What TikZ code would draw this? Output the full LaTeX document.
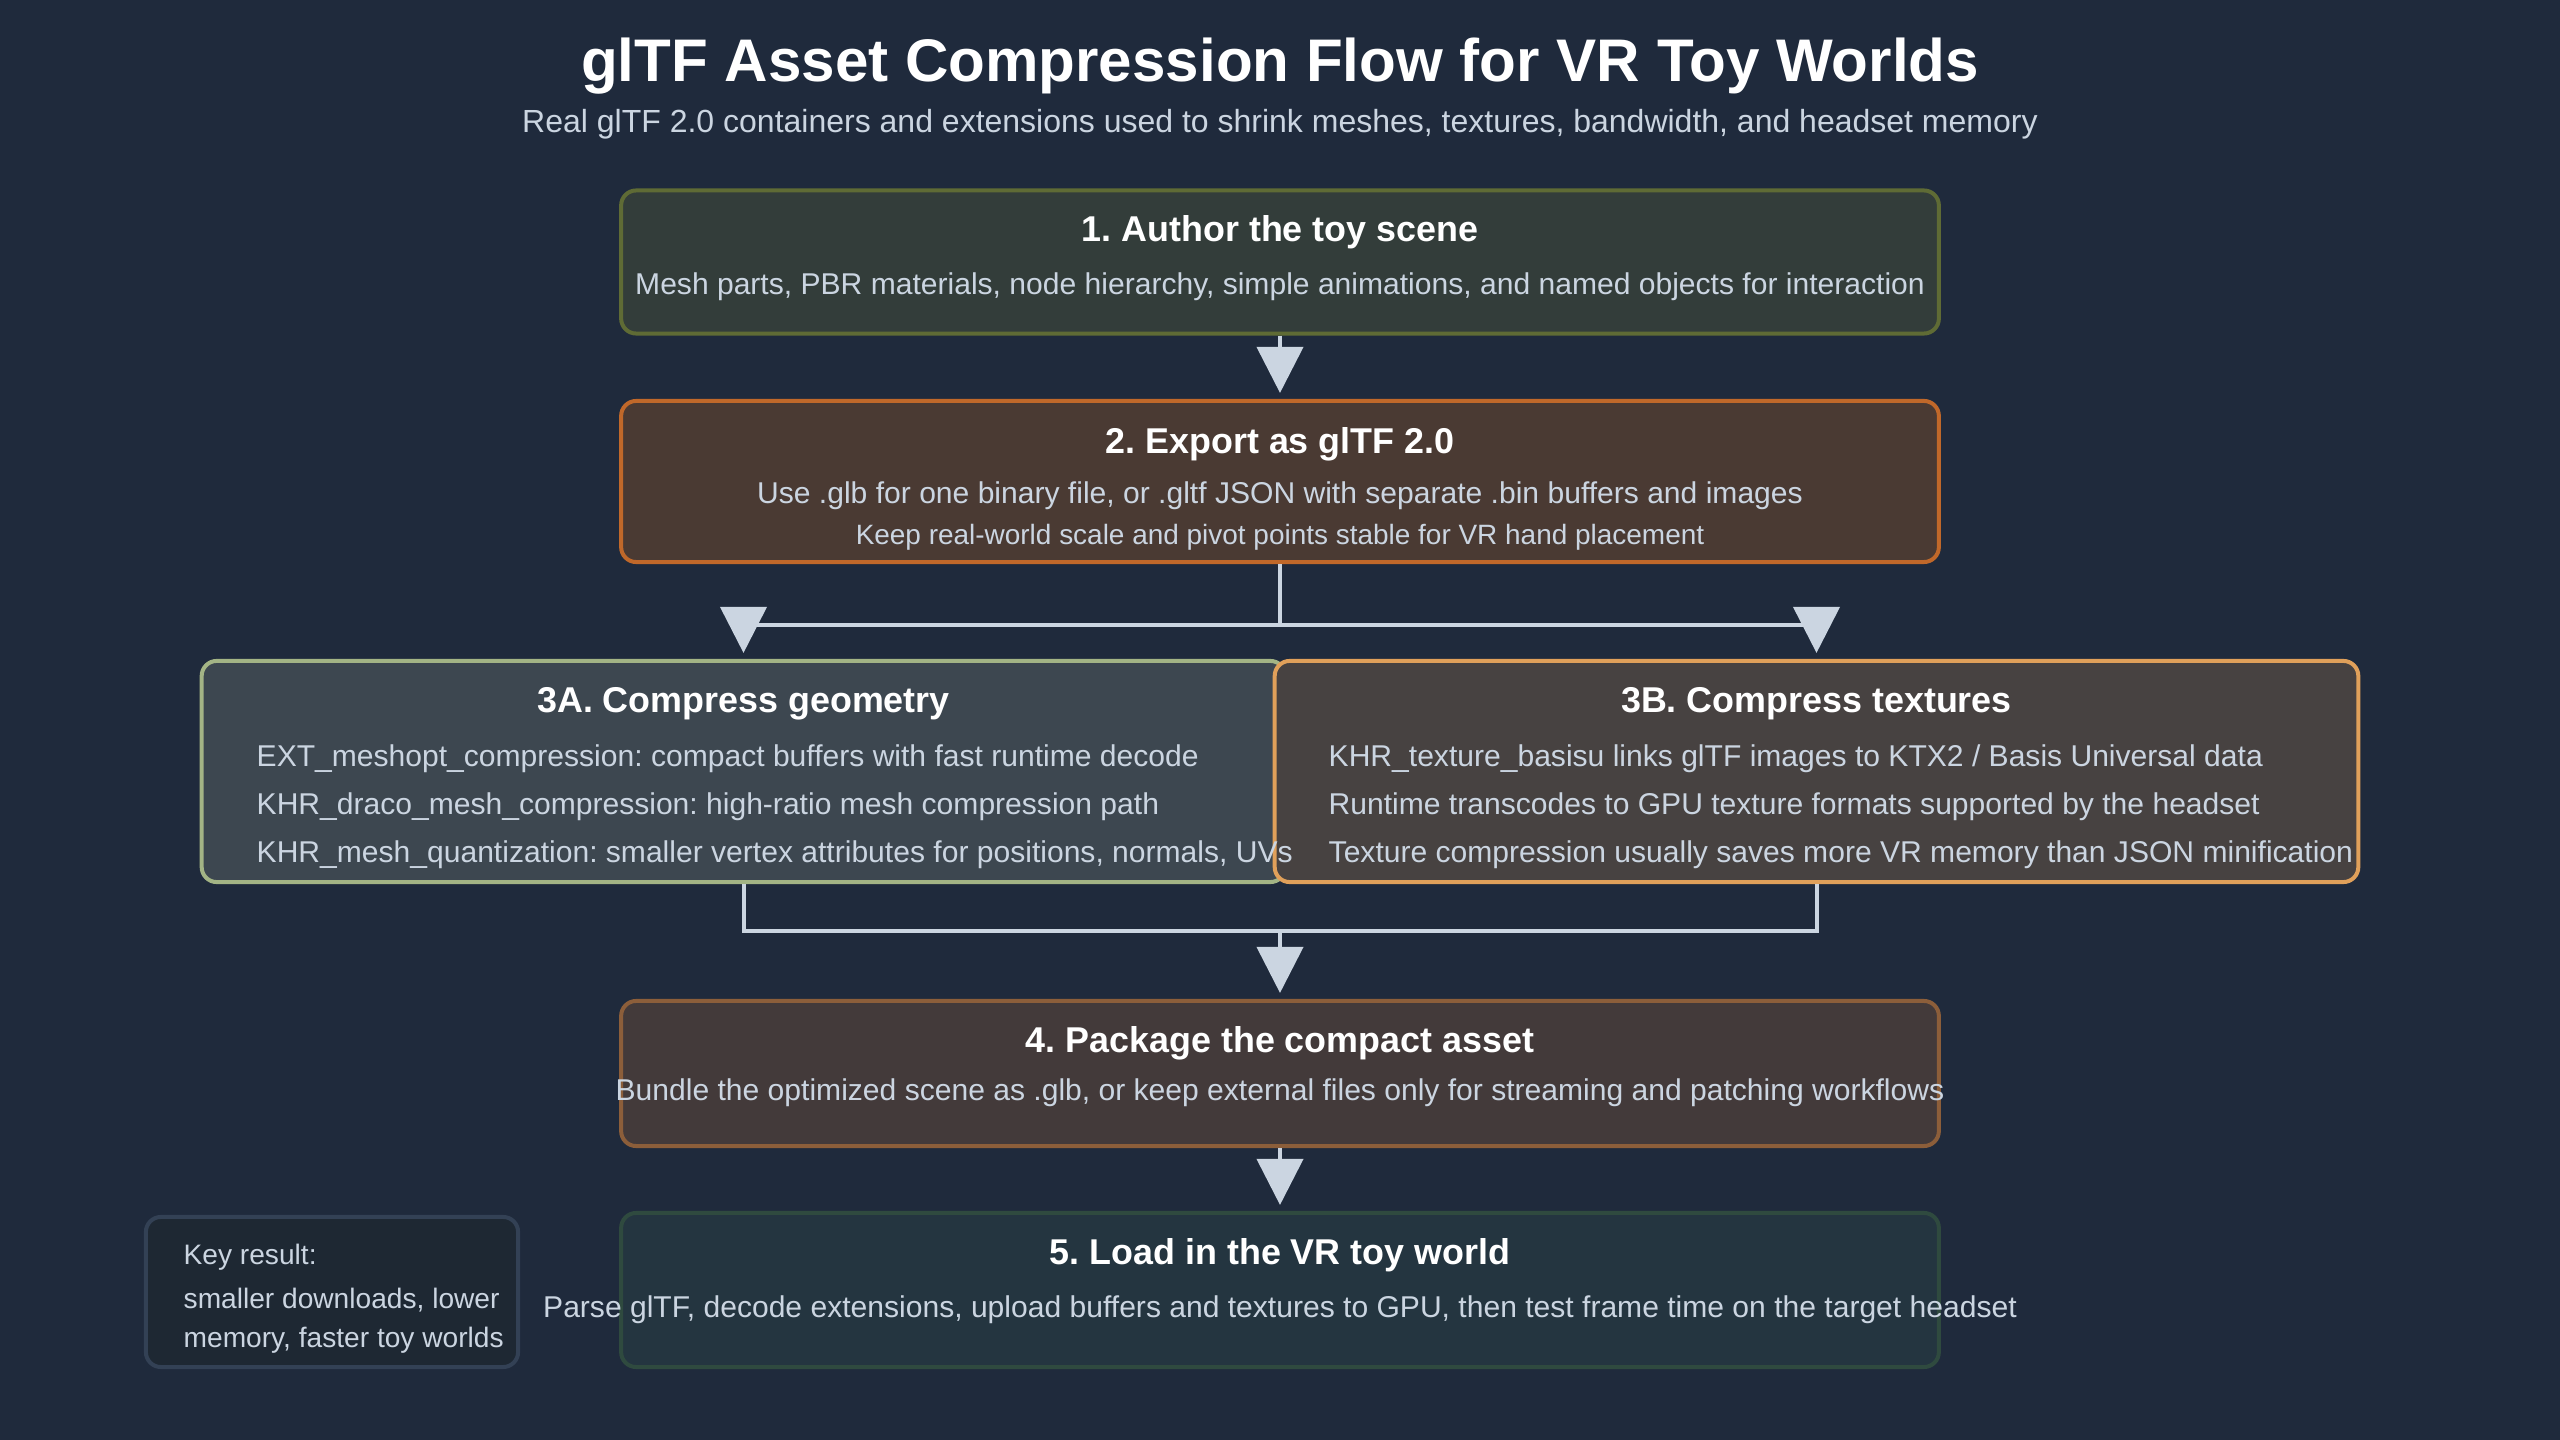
\documentclass[tikz,border=0pt]{standalone}
\usepackage{fontspec}
\setmainfont{Liberation Sans}
\usetikzlibrary{arrows.meta,positioning}
\frenchspacing

\definecolor{bgslate}{HTML}{1F2A3C}
\definecolor{linkgray}{HTML}{CBD5E1}
\definecolor{authorfill}{HTML}{333D3A}
\definecolor{authorline}{HTML}{5F6B35}
\definecolor{exportfill}{HTML}{4A3A33}
\definecolor{exportline}{HTML}{C0682A}
\definecolor{geomfill}{HTML}{3D4750}
\definecolor{geomline}{HTML}{A3B485}
\definecolor{texfill}{HTML}{474241}
\definecolor{texline}{HTML}{E0A05A}
\definecolor{packfill}{HTML}{433A3A}
\definecolor{packline}{HTML}{8C5E3A}
\definecolor{loadfill}{HTML}{243540}
\definecolor{loadline}{HTML}{2F4A3F}
\definecolor{keyfill}{HTML}{1E2833}
\definecolor{keyline}{HTML}{334155}

\begin{document}
\begin{tikzpicture}[
    x=0.01cm,
    y=-0.01cm,
    >={Triangle[length=0.46cm,width=0.46cm]},
    stage/.style={
		rectangle,
		rounded corners=0.15cm,
		line width=0.04cm,
		minimum width=13.17cm,
		minimum height=1.43cm
	},
	branch/.style={
		stage,
		minimum width=10.83cm,
		minimum height=2.21cm
	},
	heading/.style={
		text=white,
		font=\fontsize{10.2}{12.2}\selectfont\bfseries
	},
	body/.style={
		text=linkgray,
		font=\fontsize{8.55}{10.2}\selectfont
	},
	item/.style={
		body,
		anchor=west,
		inner sep=0pt
	},
	link/.style={
		draw=linkgray,
		line width=0.04cm
	},
	flow/.style={
		link,
		->,
		shorten >=0.06cm
	}
  ]

 \fill[bgslate] (0,0) rectangle (2560,1440);
 \useasboundingbox (0,0) rectangle (2560,1440);

% // Title
 \node [text=white, font=\fontsize{17.1}{20.5}\selectfont\bfseries] (title) at (1280,66) {glTF Asset Compression Flow for VR Toy Worlds};
 \node [body, font=\fontsize{9.1}{10.9}\selectfont] (subtitle) at (1280,124) {Real glTF 2.0 containers and extensions used to shrink meshes, textures, bandwidth, and headset memory};

% // Step 1
 \node [stage, fill=authorfill, draw=authorline] (author) at (1280,262) {};
 \node [heading] (authorT) at (1280,232) {1. Author the toy scene};
 \node [body] (authorD) at (1280,287) {Mesh parts, PBR materials, node hierarchy, simple animations, and named objects for interaction};

% // Step 2
 \node [stage, minimum height=1.61cm, fill=exportfill, draw=exportline] (export) at (1280,481.5) {};
 \node [heading] (exportT) at (1280,444) {2. Export as glTF 2.0};
 \node [body] (exportD) at (1280,496) {Use .glb for one binary file, or .gltf JSON with separate .bin buffers and images};
 \node [body, font=\fontsize{7.95}{9.5}\selectfont] (exportN) at (1280,537) {Keep real-world scale and pivot points stable for VR hand placement};

% // Step 3A and 3B
 \node [branch, fill=geomfill, draw=geomline] (geom) at (743.5,771.5) {};
 \node [branch, fill=texfill, draw=texline] (tex) at (1816.5,771.5) {};

 \node [heading] (geomT) at (743.5,704) {3A. Compress geometry};
 \node [item] (geomA) at (256,759) {EXT\_meshopt\_compression: compact buffers with fast runtime decode};
 \node [item] (geomB) at (256,807) {KHR\_draco\_mesh\_compression: high-ratio mesh compression path};
 \node [item] (geomC) at (256,855) {KHR\_mesh\_quantization: smaller vertex attributes for positions, normals, UVs};

 \node [heading] (texT) at (1816.5,704) {3B. Compress textures};
 \node [item] (texA) at (1328,759) {KHR\_texture\_basisu links glTF images to KTX2 / Basis Universal data};
 \node [item] (texB) at (1328,807) {Runtime transcodes to GPU texture formats supported by the headset};
 \node [item] (texC) at (1328,855) {Texture compression usually saves more VR memory than JSON minification};

% // Step 4
 \node [stage, minimum height=1.45cm, fill=packfill, draw=packline] (package) at (1280,1073.5) {};
 \node [heading] (packageT) at (1280,1043) {4. Package the compact asset};
 \node [body] (packageD) at (1280,1093) {Bundle the optimized scene as .glb, or keep external files only for streaming and patching workflows};

% // Step 5
 \node [stage, minimum height=1.54cm, fill=loadfill, draw=loadline] (load) at (1280,1290) {};
 \node [heading] (loadT) at (1280,1255) {5. Load in the VR toy world};
 \node [body] (loadD) at (1280,1310) {Parse glTF, decode extensions, upload buffers and textures to GPU, then test frame time on the target headset};

% // Key result
 \node [stage, minimum width=3.72cm, minimum height=1.5cm, fill=keyfill, draw=keyline] (key) at (332,1292) {};
 \node [item, font=\fontsize{8}{9.6}\selectfont] (keyA) at (183,1257) {Key result:};
 \node [item, font=\fontsize{8}{9.6}\selectfont] (keyB) at (183,1300) {smaller downloads, lower};
 \node [item, font=\fontsize{8}{9.6}\selectfont] (keyC) at (183,1340) {memory, faster toy worlds};

% // Connectors
 \coordinate (split) at (1280,625);
 \coordinate (merge) at (1280,931);

 \draw [flow] (author) -- (export);
 \draw [link] (export) -- (split);
 \draw [link] (geom.north |- split) -- (tex.north |- split);
 \draw [flow] (geom.north |- split) -- (geom);
 \draw [flow] (tex.north |- split) -- (tex);
 \draw [link] (geom) -- (geom.south |- merge) -- (tex.south |- merge) -- (tex);
 \draw [flow] (merge) -- (package);
 \draw [flow] (package) -- (load);

\end{tikzpicture}
\end{document}
